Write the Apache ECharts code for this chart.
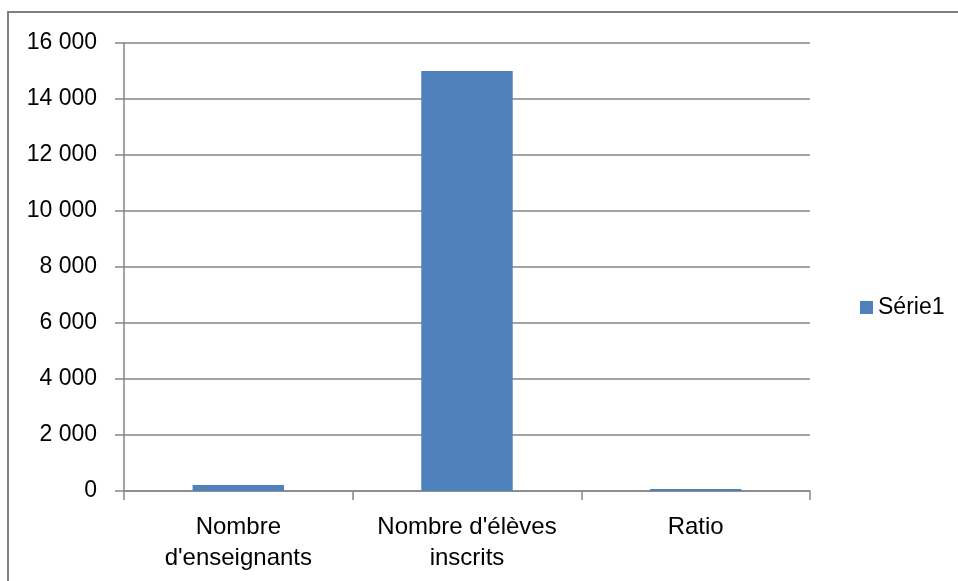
<!DOCTYPE html>
<html>
<head>
<meta charset="utf-8">
<script src="https://cdn.jsdelivr.net/npm/echarts@6/dist/echarts.min.js"></script>
<style>
  html, body { margin: 0; padding: 0; background: #fff; }
  #chart { width: 958px; height: 581px; }
</style>
</head>
<body>
<div id="chart"></div>
<script>
// Categories and values of the single series
const categories = ["Nombre\nd'enseignants", "Nombre d'élèves\ninscrits", "Ratio"];
const serie1 = [210, 15000, 70];
const seriesName = "Série1";
// Value axis range
const yMin = 0;
const yMax = 16000;
const yStep = 2000;

const FONT = "'Liberation Sans', Arial, sans-serif";
const GRID_COLOR = '#868686';

function formatThousands(v) {
  return String(v).replace(/\B(?=(\d{3})+(?!\d))/g, ' ');
}

const chart = echarts.init(document.getElementById('chart'), null, { renderer: 'canvas' });
chart.setOption({
  animation: false,
  backgroundColor: '#fff',
  graphic: [{
    type: 'rect',
    shape: { x: 8, y: 12, width: 1000, height: 700 },
    style: { fill: 'none', stroke: '#808080', lineWidth: 2 },
    silent: true
  }],
  grid: { left: 124, right: 148, top: 43, bottom: 90, containLabel: false },
  legend: {
    data: [seriesName],
    orient: 'vertical',
    left: 855,
    top: 291,
    itemWidth: 13,
    itemHeight: 13,
    itemGap: 6,
    icon: 'rect',
    textStyle: { fontFamily: FONT, fontSize: 23, color: '#000' }
  },
  xAxis: {
    type: 'category',
    data: categories,
    axisLine: { show: true, lineStyle: { color: GRID_COLOR, width: 1.5 } },
    axisTick: { show: true, alignWithLabel: false, length: 9, lineStyle: { color: GRID_COLOR, width: 1.5 } },
    axisLabel: {
      fontFamily: FONT, fontSize: 24, color: '#000', lineHeight: 31, margin: 21, interval: 0
    }
  },
  yAxis: {
    type: 'value',
    min: yMin,
    max: yMax,
    interval: yStep,
    axisLine: { show: true, lineStyle: { color: GRID_COLOR, width: 1.5 } },
    axisTick: { show: true, inside: false, length: 9, lineStyle: { color: GRID_COLOR, width: 1.5 } },
    splitLine: { show: true, lineStyle: { color: GRID_COLOR, width: 1.5 } },
    axisLabel: {
      fontFamily: FONT, fontSize: 23, color: '#000', margin: 27,
      formatter: formatThousands
    }
  },
  series: [{
    name: seriesName,
    type: 'bar',
    data: serie1,
    barWidth: '40%',
    itemStyle: { color: '#4F81BD' }
  }]
});
</script>
</body>
</html>
